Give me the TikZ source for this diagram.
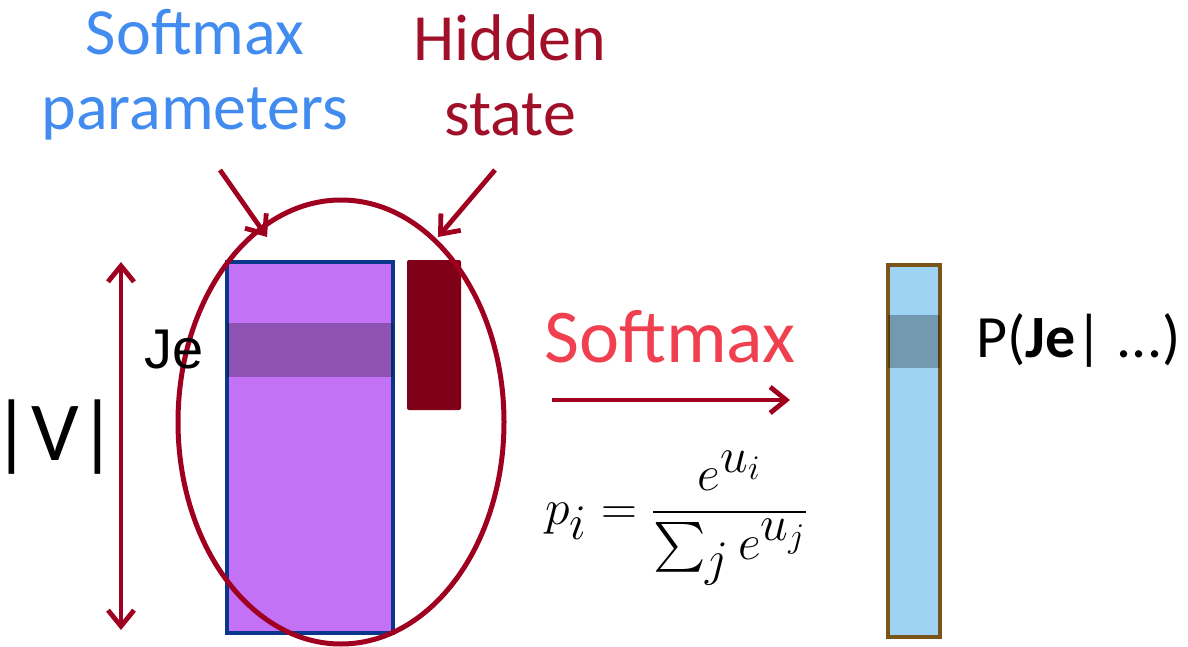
\documentclass[tikz,border=0pt]{standalone}
\usepackage{amsmath}
\usepackage{fontspec}
\setmainfont{Carlito}
\newfontfamily\arialfont{Liberation Sans}
\usetikzlibrary{arrows.meta,shapes.geometric}

\definecolor{paramblue}{RGB}{66,140,240}
\definecolor{hidred}{RGB}{160,16,40}
\definecolor{arrred}{RGB}{160,0,32}
\definecolor{matpurple}{RGB}{195,114,245}
\definecolor{matedge}{RGB}{10,55,140}
\definecolor{hiddark}{RGB}{128,0,24}
\definecolor{outblue}{RGB}{158,211,243}
\definecolor{outedge}{RGB}{122,84,24}
\definecolor{softpink}{RGB}{240,64,80}

\begin{document}
\begin{tikzpicture}
  [x=0.5pt, y=-0.5pt,
   title/.style={align=center, font=\fontsize{33}{37.5}\selectfont},
   redarrow/.style={draw=arrred, line width=2.4pt, -{Straight Barb[length=8pt,width=13pt]}},
   band/.style={fill=black, fill opacity=0.27, inner sep=0pt}]

  \useasboundingbox (0,0) rectangle (1188,647);

  % Titulos
  \node[title, text=paramblue] (params) at (195,75) {Softmax\\parameters};
  \node[title, text=hidred] (hidden) at (510,75) {Hidden\\state};

  % Matriz de parametros y estado oculto
  \node[draw=matedge, fill=matpurple, line width=2pt, inner sep=0pt,
        minimum width=83pt, minimum height=185.5pt] (W) at (310,447.5) {};
  \node[band, minimum width=83pt, minimum height=27pt] (Wrow) at (310,350) {};
  \node[fill=hiddark, rounded corners=1pt, inner sep=0pt,
        minimum width=27pt, minimum height=75pt] (h) at (434,335) {};

  % Elipse
  \node[draw=arrred, line width=2.5pt, ellipse, inner sep=0pt,
        minimum width=163pt, minimum height=222pt] (oval) at (341,422) {};

  % Flechas de los titulos
  \coordinate (pa) at (220,170);
  \coordinate (pb) at (267,237);
  \coordinate (ha) at (495,170);
  \coordinate (hb) at (438,237);
  \draw[redarrow] (pa) -- (pb);
  \draw[redarrow] (ha) -- (hb);

  % Tamano del vocabulario
  \coordinate (vtop) at (121,262);
  \coordinate (vbot) at (121,630);
  \draw[redarrow, {Straight Barb[length=8pt,width=13pt]}-{Straight Barb[length=8pt,width=13pt]}] (vtop) -- (vbot);
  \node[font=\fontsize{42}{48}\selectfont, inner sep=0pt] (V) at (55,437) {|V|};
  \node[font=\arialfont\fontsize{28}{32}\selectfont, anchor=west] (je) at (137,350) {Je};

  % Softmax
  \node[font=\fontsize{38}{42}\selectfont, text=softpink] (smax) at (670,337) {Softmax};
  \coordinate (sa) at (552,400);
  \coordinate (sb) at (790,400);
  \draw[redarrow] (sa) -- (sb);
  \node[font=\fontsize{33}{38}\selectfont] (formula) at (677,518)
    {$p_i = \dfrac{e^{u_i}}{\sum_j e^{u_j}}$};

  % Distribucion de salida
  \node[draw=outedge, fill=outblue, line width=2pt, inner sep=0pt,
        minimum width=26pt, minimum height=186pt] (out) at (914,451) {};
  \node[band, minimum width=26pt, minimum height=26.5pt] (outrow) at (914,341.5) {};
  \node[font=\fontsize{30}{34}\selectfont, anchor=west, inner sep=0pt] (prob) at (976,340) {P(\textbf{Je}| ...)};
\end{tikzpicture}
\end{document}
